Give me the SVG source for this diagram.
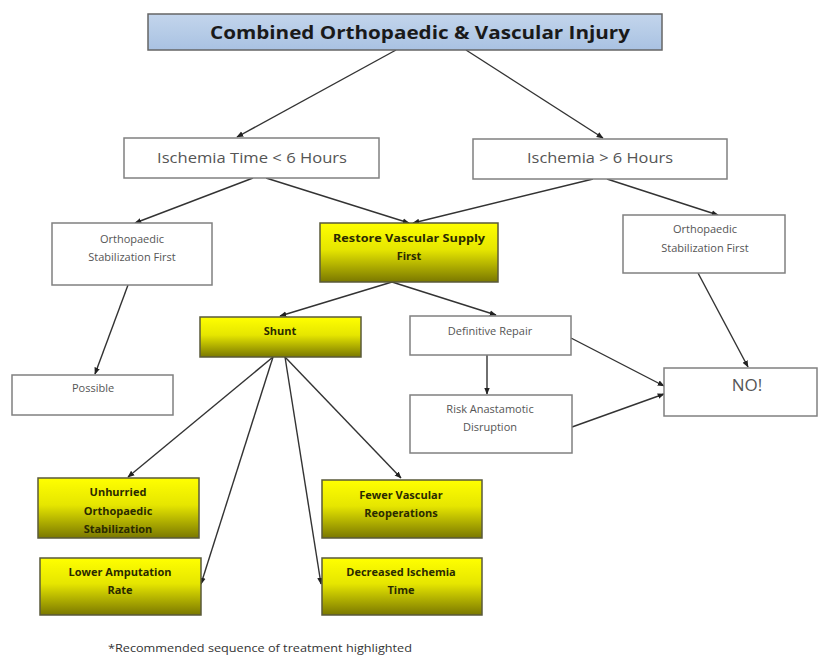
<svg xmlns="http://www.w3.org/2000/svg" width="819" height="657" viewBox="0 0 819 657">
<defs>
<linearGradient id="yel" x1="0" y1="0" x2="0" y2="1">
<stop offset="0" stop-color="#ffff00"/>
<stop offset="0.45" stop-color="#e6e600"/>
<stop offset="1" stop-color="#7a7800"/>
</linearGradient>
<linearGradient id="blue" x1="0" y1="0" x2="0" y2="1">
<stop offset="0" stop-color="#c3d5ec"/>
<stop offset="1" stop-color="#a9c2e2"/>
</linearGradient>
<marker id="ah" viewBox="0 0 10 10" refX="9" refY="5" markerWidth="7" markerHeight="7" orient="auto" markerUnits="userSpaceOnUse">
<path d="M0,1 L10,5 L0,9 z" fill="#222"/>
</marker>
</defs>
<style>
.w{fill:#fff;stroke:#808080;stroke-width:1.5}
.y{fill:url(#yel);stroke:#5a5a3a;stroke-width:1.5}
.t{font-family:"Open Sans","Liberation Sans",sans-serif;fill:#555;text-anchor:middle}
.b{font-family:"Open Sans","Liberation Sans",sans-serif;fill:#2a2a00;font-weight:bold;text-anchor:middle}
.c line{stroke:#333;stroke-width:1.4;marker-end:url(#ah)}
</style>
<rect width="819" height="657" fill="#fff"/>
<g class="c" id="connectors">
<line x1="396" y1="50" x2="237" y2="137"/>
<line x1="466" y1="50" x2="603" y2="138"/>
<line x1="253" y1="178" x2="135" y2="223"/>
<line x1="266" y1="178" x2="409" y2="223"/>
<line x1="593" y1="179" x2="413" y2="223"/>
<line x1="607" y1="179" x2="718" y2="215"/>
<line x1="392" y1="282" x2="280" y2="316"/>
<line x1="392" y1="282" x2="496" y2="315"/>
<line x1="128" y1="285" x2="95" y2="374"/>
<line x1="698" y1="273" x2="748" y2="367"/>
<line x1="487" y1="355" x2="487" y2="394"/>
<line x1="571" y1="338" x2="664" y2="386"/>
<line x1="572" y1="427" x2="664" y2="394"/>
<line x1="273" y1="357" x2="128" y2="477"/>
<line x1="273" y1="357" x2="201" y2="584"/>
<line x1="285" y1="357" x2="321" y2="584"/>
<line x1="285" y1="357" x2="401" y2="478"/>
</g>
<g id="title">
<rect x="148" y="14" width="514" height="36" fill="url(#blue)" stroke="#666" stroke-width="1.5"/>
<text x="420" y="39" font-family="'Open Sans','Liberation Sans',sans-serif" font-weight="bold" font-size="18.5" fill="#1a1a1a" text-anchor="middle" textLength="420" lengthAdjust="spacingAndGlyphs">Combined Orthopaedic &amp; Vascular Injury</text>
</g>
<g id="isch_lt6">
<rect class="w" x="124" y="138" width="255" height="40"/>
<text class="t" x="252" y="163" font-size="15" textLength="190" lengthAdjust="spacingAndGlyphs">Ischemia Time &lt; 6 Hours</text>
</g>
<g id="isch_gt6">
<rect class="w" x="473" y="139" width="254" height="40"/>
<text class="t" x="600" y="163" font-size="15" textLength="146" lengthAdjust="spacingAndGlyphs">Ischemia &gt; 6 Hours</text>
</g>
<g id="ortho_left">
<rect class="w" x="52" y="223" width="160" height="62"/>
<text class="t" x="132" y="243" font-size="11">Orthopaedic</text>
<text class="t" x="132" y="261" font-size="11">Stabilization First</text>
</g>
<g id="restore">
<rect class="y" x="320" y="223" width="178" height="59"/>
<text class="b" x="409" y="242" font-size="11" textLength="152" lengthAdjust="spacingAndGlyphs">Restore Vascular Supply</text>
<text class="b" x="409" y="260" font-size="11">First</text>
</g>
<g id="ortho_right">
<rect class="w" x="623" y="215" width="162" height="58"/>
<text class="t" x="705" y="233" font-size="11">Orthopaedic</text>
<text class="t" x="705" y="252" font-size="11">Stabilization First</text>
</g>
<g id="shunt">
<rect class="y" x="200" y="317" width="161" height="40"/>
<text class="b" x="280" y="335" font-size="11">Shunt</text>
</g>
<g id="definitive">
<rect class="w" x="410" y="316" width="161" height="39"/>
<text class="t" x="490" y="335" font-size="11">Definitive Repair</text>
</g>
<g id="possible">
<rect class="w" x="12" y="375" width="161" height="40"/>
<text class="t" x="93" y="392" font-size="11">Possible</text>
</g>
<g id="no">
<rect class="w" x="664" y="368" width="153" height="48"/>
<text class="t" x="747" y="391" font-size="17" fill="#333">NO!</text>
</g>
<g id="risk">
<rect class="w" x="410" y="395" width="162" height="58"/>
<text class="t" x="490" y="413" font-size="11">Risk Anastamotic</text>
<text class="t" x="490" y="431" font-size="11">Disruption</text>
</g>
<g id="unhurried">
<rect class="y" x="38" y="478" width="161" height="60"/>
<text class="b" x="118" y="496" font-size="11">Unhurried</text>
<text class="b" x="118" y="515" font-size="11">Orthopaedic</text>
<text class="b" x="118" y="533" font-size="11">Stabilization</text>
</g>
<g id="fewer">
<rect class="y" x="322" y="480" width="160" height="58"/>
<text class="b" x="401" y="499" font-size="11">Fewer Vascular</text>
<text class="b" x="401" y="517" font-size="11">Reoperations</text>
</g>
<g id="lower">
<rect class="y" x="40" y="558" width="161" height="57"/>
<text class="b" x="120" y="576" font-size="11">Lower Amputation</text>
<text class="b" x="120" y="594" font-size="11">Rate</text>
</g>
<g id="decreased">
<rect class="y" x="322" y="558" width="160" height="57"/>
<text class="b" x="401" y="576" font-size="11">Decreased Ischemia</text>
<text class="b" x="401" y="594" font-size="11">Time</text>
</g>
<text x="260" y="652" font-family="'Open Sans','Liberation Sans',sans-serif" font-size="10.5" fill="#333" text-anchor="middle" textLength="304" lengthAdjust="spacingAndGlyphs">*Recommended sequence of treatment highlighted</text>
</svg>
